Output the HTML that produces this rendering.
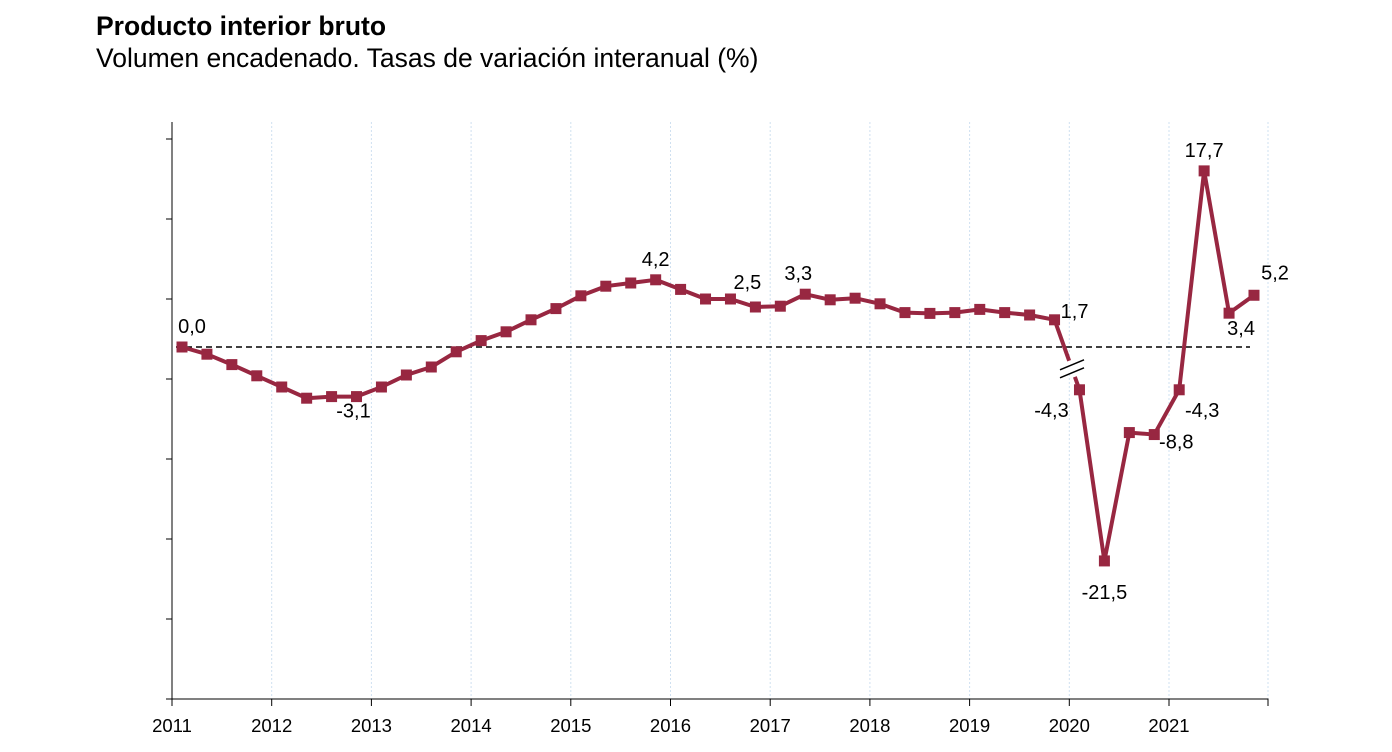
<!DOCTYPE html>
<html><head><meta charset="utf-8"><style>
body{margin:0;background:#fff;font-family:"Liberation Sans",sans-serif}
#wrap{position:relative;width:1392px;height:752px;overflow:hidden}
</style></head><body>
<div id="wrap">
<svg id="chart" width="1392" height="752"></svg>
</div>
<script>
const years = ["2011","2012","2013","2014","2015","2016","2017","2018","2019","2020","2021"];
const valuesPre = [0.0,-0.45,-1.1,-1.8,-2.5,-3.2,-3.1,-3.1,-2.5,-1.75,-1.25,-0.3,0.4,0.95,1.7,2.4,3.2,3.8,4.0,4.2,3.6,3.0,3.0,2.5,2.55,3.3,2.95,3.05,2.7,2.15,2.1,2.15,2.35,2.15,2.0,1.7];
const valuesPost = [-4.3,-21.5,-8.6,-8.8,-4.3,17.7,3.4,5.2];
const labelIdx = [0,7,19,23,25,35,36,37,39,40,41,42,43];
const labelText = ["0,0","-3,1","4,2","2,5","3,3","1,7","-4,3","-21,5","-8,8","-4,3","17,7","3,4","5,2"];
const labelDx = [10,-3,0,-8,-7,20,-28,0,22,23,0,12,21];
const labelDy = [-14,21,-14,-18,-14,-2,27,38,14,27,-14,22,-16];

const NS="http://www.w3.org/2000/svg", svg=document.getElementById('chart');
function el(t,a){const e=document.createElementNS(NS,t);for(const k in a)e.setAttribute(k,a[k]);svg.appendChild(e);return e;}
const X0=172, YW=99.7, y0=347;
const xPt=i=>182+i*24.93;
const yPre=v=>y0-v*16;
const yPost=v=>y0-v*9.95;
function txt(x,y,s,size,anchor,w,name){const t=el('text',{x:x,y:y,'font-size':size,'text-anchor':anchor||'start','font-weight':w||'normal',fill:'#000'});t.textContent=s;

return t;}
txt(96,35,"Producto interior bruto",26.5,'start','bold','chart-title');
txt(96,67,"Volumen encadenado. Tasas de variación interanual (%)",26.5,'start','normal','chart-subtitle');
years.forEach((y,i)=>{const x=X0+i*YW;
 if(i>0){const g=el('line',{x1:x,y1:122,x2:x,y2:699,stroke:'#cfe0f0','stroke-width':1,'stroke-dasharray':'2,2'});
 
 }
 const tk=el('line',{x1:x,y1:699,x2:x,y2:706,stroke:'#000'});
 
 
 txt(x,732,y,18.5,'middle','normal','x-label-'+y);
});
const gl=el('line',{x1:1268,y1:122,x2:1268,y2:699,stroke:'#cfe0f0','stroke-dasharray':'2,2'});


const ax=el('path',{d:'M172,122V699H1268V706',fill:'none',stroke:'#000','stroke-width':1});


for(let k=0;k<8;k++){const yy=139+k*80;const t=el('line',{x1:166,y1:yy,x2:172,y2:yy,stroke:'#000'});

}
const zl=el('line',{x1:176,y1:y0,x2:1250,y2:y0,stroke:'#000','stroke-width':1.6,'stroke-dasharray':'6,4'});


const pts=valuesPre.map((v,i)=>[xPt(i),yPre(v)]).concat(valuesPost.map((v,j)=>[xPt(36+j),yPost(v)]));
const C='#982741';
const ln=el('polyline',{points:pts.map(p=>p.join(',')).join(' '),fill:'none',stroke:C,'stroke-width':4,'stroke-linejoin':'round'});


const t0=0.7, bx=pts[35][0]+(pts[36][0]-pts[35][0])*t0, by=pts[35][1]+(pts[36][1]-pts[35][1])*t0;
const wm=el('line',{x1:bx-3,y1:by-8,x2:bx+3,y2:by+8,stroke:'#fff','stroke-width':8});


[-4,4].forEach(d=>{const b=el('line',{x1:bx-12,y1:by+d+5,x2:bx+12,y2:by+d-5,stroke:'#000','stroke-width':1.5});

});
pts.forEach((p,i)=>{const r=el('rect',{x:p[0]-5.5,y:p[1]-5.5,width:11,height:11,fill:C});

});
labelIdx.forEach((idx,k)=>{txt(pts[idx][0]+labelDx[k],pts[idx][1]+labelDy[k],labelText[k],20,'middle','normal','value-label');});
</script>
</body></html>
